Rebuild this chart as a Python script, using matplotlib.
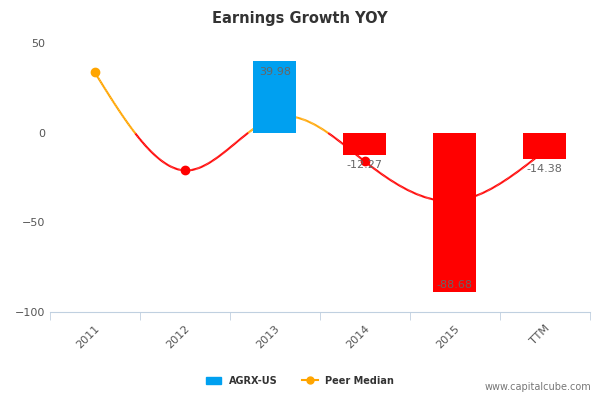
import matplotlib

matplotlib.use("Agg")
import matplotlib.pyplot as plt
import numpy as np
from matplotlib.collections import LineCollection
from matplotlib.lines import Line2D
from matplotlib.patches import Patch

categories = ["2011", "2012", "2013", "2014", "2015", "TTM"]
agrx = [np.nan, np.nan, 39.98, -12.27, -88.68, -14.38]
peer = [33.7, -21.0, 8.4, -16.0, -38.0, -10.0]


def natural_spline(x, y, n=400):
    x = np.asarray(x, float)
    y = np.asarray(y, float)
    k = len(x)
    h = np.diff(x)
    a = np.zeros((k, k))
    b = np.zeros(k)
    a[0, 0] = a[-1, -1] = 1
    for i in range(1, k - 1):
        a[i, i - 1] = h[i - 1]
        a[i, i] = 2 * (h[i - 1] + h[i])
        a[i, i + 1] = h[i]
        b[i] = 3 * ((y[i + 1] - y[i]) / h[i] - (y[i] - y[i - 1]) / h[i - 1])
    c = np.linalg.solve(a, b)
    xs = np.linspace(x[0], x[-1], n)
    ys = np.empty_like(xs)
    for j, xv in enumerate(xs):
        i = min(np.searchsorted(x, xv, side="right") - 1, k - 2)
        d = xv - x[i]
        bi = (y[i + 1] - y[i]) / h[i] - h[i] * (2 * c[i] + c[i + 1]) / 3
        di = (c[i + 1] - c[i]) / (3 * h[i])
        ys[j] = y[i] + bi * d + c[i] * d ** 2 + di * d ** 3
    return xs, ys


fig = plt.figure(figsize=(6, 4), dpi=100)
ax = fig.add_axes([0.083, 0.22, 0.9, 0.672])
x = np.arange(len(categories))

xs, ys = natural_spline(x, peer)
pts = np.column_stack([xs, ys]).reshape(-1, 1, 2)
segs = np.concatenate([pts[:-1], pts[1:]], axis=1)
cols = ["#FFA500" if (ys[i] + ys[i + 1]) / 2 >= 0 else "#FF0000" for i in range(len(ys) - 1)]
ax.add_collection(LineCollection(segs, colors=cols, linewidths=1.5, zorder=2))
for xi, v in zip(x, peer):
    ax.plot(xi, v, "o", color="#FFA500" if v >= 0 else "#FF0000", ms=6, zorder=2)

for xi, v in zip(x, agrx):
    if np.isnan(v):
        continue
    ax.bar(xi, v, width=0.48, color="#00A0F0" if v >= 0 else "#FF0000", zorder=3)
    if v >= 0:
        ax.text(xi, v - 3, f"{v:.2f}", ha="center", va="top", fontsize=8, color="#666666", zorder=4)
    elif v < -50:
        ax.text(xi, v + 1, f"{v:.2f}", ha="center", va="bottom", fontsize=8, color="#666666", zorder=4)
    else:
        ax.text(xi, v - 3, f"{v:.2f}", ha="center", va="top", fontsize=8, color="#666666", zorder=4)

ax.set_xlim(-0.5, len(categories) - 0.5)
ax.set_ylim(-100, 50)
ax.set_yticks([-100, -50, 0, 50])
ax.set_xticks(x, categories, rotation=45, ha="right", rotation_mode="anchor")
ax.set_xticks(np.arange(-0.5, len(categories)), minor=True)
ax.tick_params(axis="x", which="major", length=0, labelsize=8, colors="#555555", pad=8)
ax.tick_params(axis="x", which="minor", length=6, color="#C0D0E0")
ax.tick_params(axis="y", length=0, labelsize=8, colors="#555555")
for s in ["top", "right", "left"]:
    ax.spines[s].set_visible(False)
ax.spines["bottom"].set_color("#C0D0E0")

fig.text(0.5, 0.955, "Earnings Growth YOY", ha="center", va="center", fontsize=10.5, color="#333333", fontweight="bold")
handles = [
    Patch(color="#00A0F0", label="AGRX-US"),
    Line2D([], [], color="#FFA500", marker="o", ms=5, label="Peer Median"),
]
fig.legend(handles=handles, loc="center", bbox_to_anchor=(0.5, 0.048), ncol=2, frameon=False,
           prop={"size": 7, "weight": "bold"}, labelcolor="#333333", handlelength=1.6, columnspacing=2.5)
fig.text(0.985, 0.02, "www.capitalcube.com", ha="right", va="bottom", fontsize=7, color="#777777")
fig.savefig("out.png", dpi=100)
